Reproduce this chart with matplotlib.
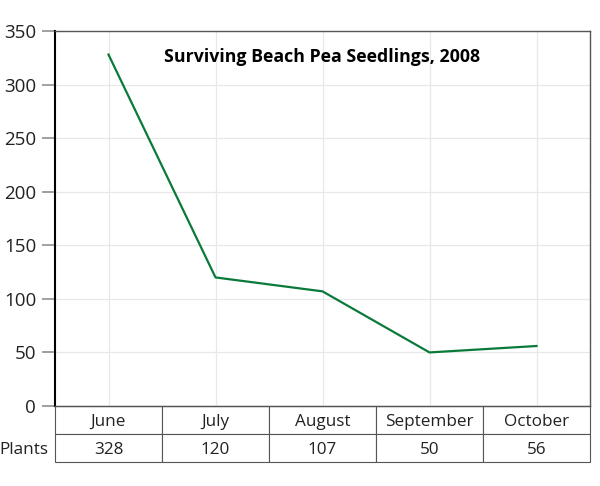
import matplotlib.pyplot as plt

months = ['June', 'July', 'August', 'September', 'October']
plants = [328, 120, 107, 50, 56]
yticks = [0, 50, 100, 150, 200, 250, 300, 350]

plt.rcParams['font.family'] = ['Open Sans', 'DejaVu Sans']

fig = plt.figure(figsize=(6, 4.86), dpi=100)
ax = fig.add_axes([55/600, 80/486, 535/600, 375/486])

x = list(range(len(months)))
ax.plot(x, plants, color='#0a7a3a', lw=1.6, zorder=3)

ax.set_xlim(-0.5, len(months) - 0.5)
ax.set_ylim(0, 350)
ax.set_yticks(yticks)
ax.set_xticks(x)
ax.set_xticklabels([])
ax.tick_params(axis='x', length=0)
ax.tick_params(axis='y', length=9.5, width=1.3, color='#999999', labelsize=13.5, pad=4, labelcolor='#222222')
ax.grid(True, color='#e8e8e8', lw=0.9)
ax.set_axisbelow(True)

for s in ['top', 'right', 'bottom']:
    ax.spines[s].set_color('#555555')
    ax.spines[s].set_linewidth(1.0)
ax.spines['left'].set_color('black')
ax.spines['left'].set_linewidth(1.5)

ax.text(0.5, 0.93, 'Surviving Beach Pea Seedlings, 2008', transform=ax.transAxes,
        ha='center', va='center', fontsize=12.8, fontweight='bold', color='black')

# data table under the axes
h = 56 / 375
tbl = ax.table(cellText=[[str(v) for v in plants]], colLabels=months,
               cellLoc='center', bbox=[0, -h, 1, h])
tbl.auto_set_font_size(False)
tbl.set_fontsize(12.3)
for (r, c), cell in tbl.get_celld().items():
    cell.set_edgecolor('#555555')
    cell.set_linewidth(0.8)
    cell.get_text().set_color('#222222')
    cell.get_text().set_va('center_baseline')

ax.text(-7/535, -0.75 * h, 'Plants', transform=ax.transAxes, ha='right', va='center_baseline',
        fontsize=12.3, color='#222222')

fig.savefig('out.png', dpi=100)
